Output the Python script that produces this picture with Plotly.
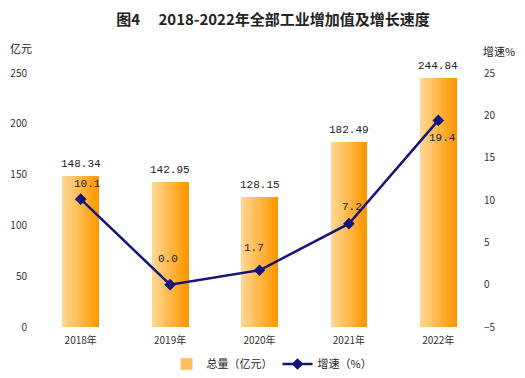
import plotly.graph_objects as go

years = ["2018年", "2019年", "2020年", "2021年", "2022年"]
total = [148.34, 142.95, 128.15, 182.49, 244.84]
growth = [10.1, 0.0, 1.7, 7.2, 19.4]
total_labels = ["148.34", "142.95", "128.15", "182.49", "244.84"]
growth_labels = ["10.1", "0.0", "1.7", "7.2", "19.4"]
growth_label_dx = [7, -2, -6, 3, 4]
growth_label_dy = [15, 26, 22, 17, -18]

FONT = "Noto Sans CJK SC, DejaVu Sans, sans-serif"
MONO = "Liberation Mono, DejaVu Sans Mono, monospace"

W, H = 525, 378
ml, mr, mt, mb = 36, 42, 73, 51
pw, ph = W - ml - mr, H - mt - mb
def px(xp): return (xp - ml) / pw
def py(yp): return (H - mb - yp) / ph

fig = go.Figure()

# gradient bars built from slices
n = 12
bw = 0.41
c0 = (255, 214, 145)
c1 = (255, 152, 0)
for i in range(n):
    t = i / (n - 1)
    col = "rgb(%d,%d,%d)" % tuple(round(a + (b - a) * t) for a, b in zip(c0, c1))
    fig.add_trace(go.Bar(
        x=years, y=total, width=bw / n + 0.002, offset=-bw / 2 + i * bw / n,
        marker=dict(color=col, line=dict(width=0)),
        showlegend=False, hoverinfo="skip", yaxis="y",
    ))
# legend entry for bars
fig.add_trace(go.Bar(
    x=years, y=[None] * len(years), name="总量（亿元）",
    marker=dict(color="rgb(255,190,90)"), showlegend=True, yaxis="y",
))

fig.add_trace(go.Scatter(
    x=years, y=growth, name="增速（%）", mode="lines+markers", yaxis="y2",
    line=dict(color="#14147a", width=2.5),
    marker=dict(symbol="diamond", size=9, color="#14147a"),
))

for xv, yv, lab in zip(years, total, total_labels):
    fig.add_annotation(x=xv, y=yv, xref="x", yref="y", text=lab, showarrow=False,
                       yshift=12, font=dict(size=11, color="#222", family=MONO))
for xv, yv, lab, dx, dy in zip(years, growth, growth_labels, growth_label_dx, growth_label_dy):
    fig.add_annotation(x=xv, y=yv, xref="x", yref="y2", text=lab, showarrow=False,
                       xshift=dx, yshift=dy, font=dict(size=11, color="#222", family=MONO))

fig.add_annotation(x=px(21), y=py(48), xref="paper", yref="paper", text="亿元", showarrow=False,
                   xanchor="center", yanchor="middle", font=dict(size=11, color="#222", family=FONT))
fig.add_annotation(x=px(499), y=py(51), xref="paper", yref="paper", text="增速%", showarrow=False,
                   xanchor="center", yanchor="middle", font=dict(size=11, color="#222", family=FONT))

fig.update_layout(
    width=W, height=H,
    margin=dict(l=ml, r=mr, t=mt, b=mb, autoexpand=False),
    paper_bgcolor="white", plot_bgcolor="white",
    barmode="overlay", bargap=0,
    font=dict(family=FONT, size=10, color="#333"),
    title=dict(text="<b>图4　 2018-2022年全部工业增加值及增长速度</b>", x=0.52, xanchor="center",
               y=1 - 20 / H, yanchor="middle", font=dict(size=15, color="#222", family=FONT)),
    xaxis=dict(type="category", range=[-0.5, 4.5], showgrid=False, showline=False, zeroline=False,
               ticks="outside", ticklen=4, tickcolor="rgba(0,0,0,0)",
               tickfont=dict(size=10, color="#333")),
    yaxis=dict(range=[0, 250], dtick=50, showgrid=False, showline=False, zeroline=False,
               ticks="outside", ticklen=6, tickcolor="rgba(0,0,0,0)",
               tickfont=dict(size=10, color="#333")),
    yaxis2=dict(range=[-5, 25], dtick=5, overlaying="y", side="right", showgrid=False,
                showline=False, zeroline=False, ticks="",
                tickfont=dict(size=10, color="#333")),
    legend=dict(orientation="h", x=px(272), xanchor="center", y=py(364), yanchor="middle",
                font=dict(size=11, color="#222", family=FONT), traceorder="normal"),
)

fig.write_html("out.html", config={"displayModeBar": False},
               post_script="document.body.style.margin='0';")
